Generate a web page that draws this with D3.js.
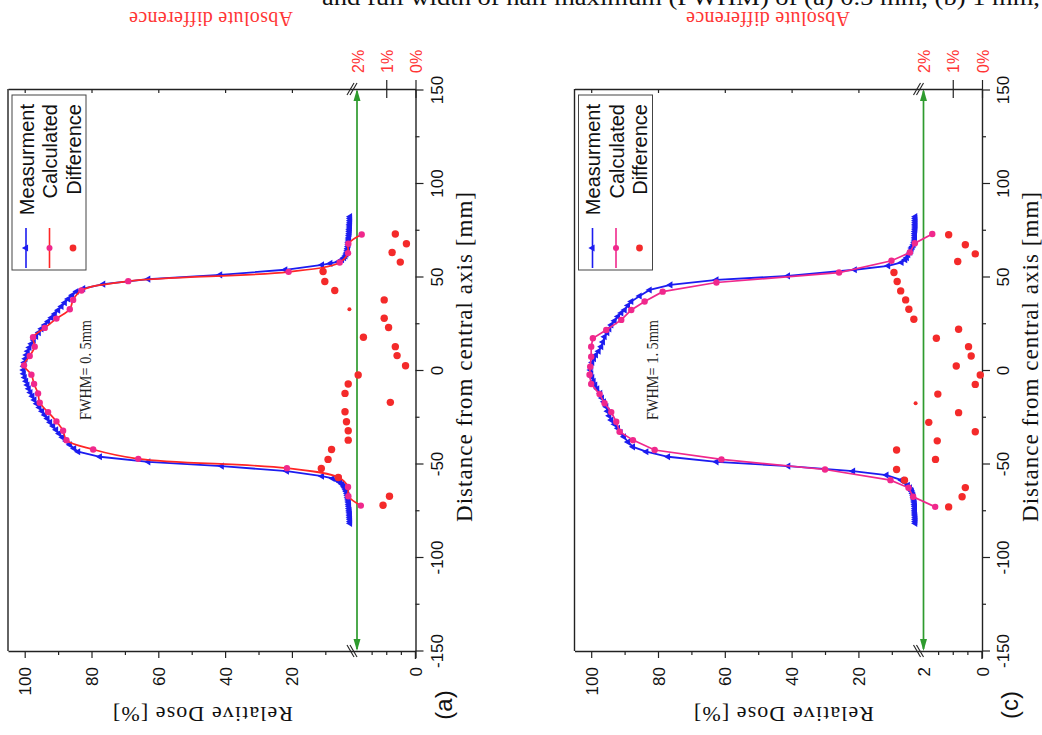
<!DOCTYPE html>
<html><head><meta charset="utf-8">
<script src="https://cdn.jsdelivr.net/npm/d3@7"></script>
<style>body{margin:0;background:#fff}svg{display:block}
.sans{font-family:"Liberation Sans",Arial,sans-serif}
.serif{font-family:"Liberation Serif","Times New Roman",serif}</style>
</head><body>
<svg id="chart" width="1042" height="735"></svg>
<script>
// ---------------- data ----------------
const doseTickValues = [100, 80, 60, 40, 20];
const doseMinorValues = [90, 70, 50, 30, 10];
const lowMinorValues = [0.5, 1, 1.5];
const distTickValues = [-150, -100, -50, 0, 50, 100, 150];
const distMinorValues = [-125, -75, -25, 25, 75, 125];
const diffTickValues = [0, 1, 2];
const diffTickLabels = ["0%", "1%", "2%"];
const legendLabels = ["Measurment", "Calculated", "Difference"];
const panelLetters = ["(a)", "(c)"];
const fwhmLabels = ["FWHM= 0. 5mm", "FWHM= 1. 5mm"];

// [distance mm, relative dose %]
const measA = [[-82,2.6],[-81,2.6],[-80,2.6],[-79,2.7],[-78,2.7],[-77,2.7],[-76,2.8],[-75,2.8],[-74,2.9],[-73,2.9],[-72,3.0],[-71,3.0],[-70,3.1],[-69,3.2],[-68,3.3],[-67,3.4],[-66,3.5],[-65,3.7],[-64,3.9],[-63,4.2],[-62,4.5],[-61,5.0],[-60,5.6],[-59,6.5],[-58,7.8],[-56.8,11],[-54.1,21.5],[-51.4,41],[-49.1,63],[-46.4,77.5],[-43.7,84],[-42,85.2],[-40,86.5],[-38,87.6],[-36,88.7],[-34,89.7],[-32,90.6],[-30,91.5],[-28,92.4],[-26,93.2],[-24,94],[-22,94.8],[-20,95.6],[-18,96.4],[-16,97.1],[-14,97.7],[-12,98.3],[-10,98.8],[-8,99.2],[-6,99.6],[-4,100],[-2,100.3],[0,100.4],[2,100.3],[4,100.1],[6,99.8],[8,99.5],[10,99.1],[12,98.6],[14,98],[16,97.3],[18,96.6],[20,95.8],[22,95],[24,94],[26,93],[28,92],[30,91],[32,90],[34,89],[36,88],[38,87],[40,85.8],[42,84.5],[43.5,82.5],[45.9,76.5],[48.6,63],[50.9,41.5],[53.6,22],[56.2,11],[57,8.5],[58,6.0],[59,5.0],[60,4.4],[61,4.0],[62,3.7],[63,3.5],[64,3.4],[65,3.3],[66,3.2],[67,3.1],[68,3.1],[69,3.0],[70,3.0],[71,2.9],[72,2.9],[73,2.8],[74,2.8],[75,2.8],[76,2.7],[77,2.7],[78,2.7],[79,2.6],[80,2.6],[81,2.6],[82,2.6]];
const calcA = [[-72.5,1.87],[-67.5,3.1],[-62.5,3.2],[-57.5,6],[-52.5,21.5],[-47.5,66],[-42.5,79.5],[-37.5,87.5],[-32.5,88.5],[-27.5,90.5],[-22.5,93],[-17.5,95.5],[-12.5,96],[-7.5,97.2],[-2.5,98],[2.5,100.2],[7.5,98.5],[12.5,97],[17.5,97.5],[22.5,94],[27.5,90.5],[32.5,86.5],[37.5,85.5],[42.5,83],[47.5,69],[52.5,21],[57.5,5.7],[62.5,3.2],[67.5,3.1],[72.5,1.84]];
const diffA = [[72.7,0.69],[67.5,0.31],[62.8,0.80],[57.7,0.52],[52.7,3.16],[47.3,3.1],[42.5,2.76],[37.5,1.07],[32.5,2.26],[27.7,1.07],[22.7,0.92],[17.5,1.78],[12.5,0.69],[7.7,0.63],[2.3,0.34],[-2.7,1.96],[-7.5,2.3],[-12.5,2.41],[-17.3,0.86],[-22.3,2.41],[-27.7,2.36],[-32.5,2.3],[-37.5,2.3],[-42.5,2.87],[-47.8,2.99],[-52.7,3.22],[-57.5,2.64],[-67.5,0.89],[-72.3,1.11]];
const smallDiffA = [32.5];

const measC = [[-82,3.0],[-81,3.0],[-80,3.0],[-79,3.0],[-78,3.0],[-77,3.1],[-76,3.1],[-75,3.1],[-74,3.1],[-73,3.1],[-72,3.2],[-71,3.2],[-70,3.3],[-69,3.4],[-68,3.5],[-67,3.6],[-66,3.8],[-65,4.0],[-64.3,4.2],[-63,4.6],[-61.6,5.2],[-60,6.2],[-58.9,7.1],[-56.2,11.6],[-54.1,21.6],[-51.4,41],[-49.1,62.5],[-46.4,77],[-43.7,83.5],[-41.1,87.5],[-38.5,89],[-35.7,90.2],[-33.5,91.2],[-31.2,92],[-29,93],[-26.8,94],[-24.5,94.6],[-22,95.1],[-19.6,95.5],[-17,96.2],[-15,96.8],[-12.5,97.3],[-10,98.2],[-8,98.8],[-6,99.3],[-4,99.7],[-2,100],[0,100.2],[2,100],[4,99.7],[6,99.2],[8,98.6],[10,97.8],[12.5,97],[15,96.5],[17.8,96],[20,95.2],[22,94.6],[24.1,94],[26.3,93],[28.6,92],[30.5,91],[32.1,90],[34.5,89],[36.6,88],[39.6,85.5],[42.8,82.5],[45.5,76.3],[48.2,62.5],[50.3,41.1],[53.6,21.1],[55.7,11.1],[57.5,7.1],[59,6.0],[60,5.5],[61.6,5.1],[63,4.5],[64,4.2],[65.2,4.1],[66,3.8],[67,3.5],[68,3.3],[69,3.2],[70,3.1],[71,3.1],[72,3.1],[73,3.1],[74,3.1],[75,3.0],[76,3.0],[77,3.0],[78,3.0],[79,3.0],[80,3.0],[81,3.0],[82,3.0]];
const calcC = [[-73.2,1.6],[-67.8,3.6],[-63,5],[-58.9,10.4],[-53.2,30],[-47.8,61],[-42.8,81],[-37.5,87.5],[-33,91.5],[-27.7,92.5],[-22.5,94],[-17.8,96],[-12.9,97.5],[-7.5,100],[-2.5,100.5],[1.8,100.3],[7.1,100],[12.5,100],[17,99.5],[21.4,95.5],[26.8,91],[32.1,88],[36.6,84],[41.9,78.6],[46.8,62.5],[52.1,25.8],[58.4,10.1],[62.8,4.6],[67.8,3.1],[72.7,1.7]];
const diffC = [[72.3,1.14],[67,0.57],[62.1,0.23],[58,0.83],[52.1,3.01],[47.3,2.9],[42.3,2.78],[37.5,2.61],[32.5,2.5],[27.1,2.33],[21.8,0.8],[17,1.56],[12.5,0.46],[7.5,0.37],[2.1,0.88],[-2.7,0.06],[-7.7,0.23],[-12.9,1.51],[-17.8,2.27],[-22.8,0.8],[-28,1.82],[-33,0.23],[-37.9,1.53],[-42.8,2.92],[-47.8,1.59],[-53.2,2.92],[-58.9,2.65],[-62.9,0.57],[-67.8,0.68],[-73.2,1.14]];
const smallDiffC = [-17.8];

// ---------------- drawing ----------------
const svg = d3.select("#chart");
const BLUE = "#1c1cf0", PINK = "#f0288c", RED = "#ff2626", GREEN = "#2e9b2e", DOT = "#f42a2a", TXTRED = "#ff3535";

// caption remnant at top (cut off, as in the source page)
svg.append("text").attr("class", "serif").attr("x", 322).attr("y", 5).style("font-size", "24px")
  .attr("textLength", 718).attr("lengthAdjust", "spacingAndGlyphs").attr("fill", "#111")
  .text("and full width of half maximum (FWHM) of (a) 0.5 mm, (b) 1 mm,");

const L = 8, R = 415.5, T = 89, B = 651;
const yDist = d3.scaleLinear().domain([-150, 150]).range([650.5, 89.5]);
const xDose = d3.scaleLinear().domain([0, 2, 2.01, 105]).range([415.5, 357, 352, 8]);
const xDiff = d3.scaleLinear().domain([0, 2]).range([415.5, 357]);
const fmt = d => String(d);

function panel(cfg) {
  const g = svg.append("g").attr("transform", `translate(${cfg.ox},0)`);

  // green reference line at 2 with arrowheads
  const gx = xDose(2);
  g.append("line").attr("x1", gx).attr("x2", gx).attr("y1", T + 2).attr("y2", B - 2)
    .attr("stroke", GREEN).attr("stroke-width", 1.7);
  g.append("path").attr("d", `M${gx - 3.5},${T + 12}L${gx + 3.5},${T + 12}L${gx},${T}Z`).attr("fill", GREEN);
  g.append("path").attr("d", `M${gx - 3.5},${B - 12}L${gx + 3.5},${B - 12}L${gx},${B}Z`).attr("fill", GREEN);

  // frame: left line
  g.append("line").attr("x1", L).attr("x2", L).attr("y1", T).attr("y2", B).attr("stroke", "#222").attr("stroke-width", 1.4);

  // top axis (inner ticks)
  const top = g.append("g").attr("transform", `translate(0,${T})`)
    .call(d3.axisBottom(xDose).tickValues(doseTickValues).tickSize(4).tickSizeOuter(0).tickFormat(""));
  // secondary difference axis ticks and labels
  const sec = g.append("g").attr("transform", `translate(0,${T})`)
    .call(d3.axisTop(xDiff).tickValues(diffTickValues).tickSize(9).tickSizeOuter(0)
      .tickFormat((d, i) => diffTickLabels[i]));
  sec.select(".domain").remove();
  sec.selectAll(".tick line").attr("y2", -9).attr("y1", 9).attr("opacity", d => d === 2 ? 0 : 1);
  sec.selectAll(".tick text").attr("y", null).attr("dy", null).attr("class", "sans")
    .attr("transform", "translate(6,-16) rotate(-90)").attr("text-anchor", "start")
    .attr("fill", TXTRED).style("font-size", "16px");

  // bottom dose axis
  const labelVals = cfg.showTwo ? doseTickValues.concat([2, 0]) : doseTickValues.concat([0]);
  const bot = g.append("g").attr("transform", `translate(0,${B})`)
    .call(d3.axisBottom(xDose).tickValues(labelVals).tickSize(7).tickSizeOuter(0).tickFormat(fmt));
  bot.selectAll(".tick line").attr("opacity", d => d === 2 ? 0 : 1);
  bot.selectAll(".tick text").attr("y", null).attr("dy", null).attr("class", "sans")
    .attr("transform", "translate(6,16) rotate(-90)").attr("text-anchor", "end")
    .attr("fill", "#111").style("font-size", "17px");
  const botMinor = g.append("g").attr("transform", `translate(0,${B})`)
    .call(d3.axisBottom(xDose).tickValues(doseMinorValues.concat(lowMinorValues)).tickSize(4).tickSizeOuter(0).tickFormat(""));
  botMinor.select(".domain").remove();

  // right distance axis
  const right = g.append("g").attr("transform", `translate(${R},0)`)
    .call(d3.axisRight(yDist).tickValues(distTickValues).tickSize(8).tickSizeOuter(0).tickFormat(fmt));
  right.selectAll(".tick text").attr("x", null).attr("dy", null).attr("class", "sans")
    .attr("transform", "translate(27,0) rotate(-90)").attr("text-anchor", "middle")
    .attr("fill", "#111").style("font-size", "17px");
  const rightMinor = g.append("g").attr("transform", `translate(${R},0)`)
    .call(d3.axisRight(yDist).tickValues(distMinorValues).tickSize(4).tickSizeOuter(0).tickFormat(""));
  rightMinor.select(".domain").remove();
  g.append("line").attr("x1", R).attr("x2", R).attr("y1", B).attr("y2", B + 8).attr("stroke", "#222").attr("stroke-width", 1.4);

  [top, sec, bot, botMinor, right, rightMinor].forEach(a => {
    a.attr("font-family", null);
    a.selectAll("path.domain").attr("stroke", "#222").attr("stroke-width", 1.4);
    a.selectAll(".tick line").attr("stroke", "#222").attr("stroke-width", 1.2);
  });

  // axis break marks
  const bx = xDose(2) - 6;
  [[T, -1], [B, 1]].forEach(([yy, s]) => {
    [0, 3].forEach(o => {
      g.append("line").attr("x1", bx - 4 + o).attr("x2", bx + 3 + o)
        .attr("y1", yy + 6 * (s < 0 ? 1 : -1)).attr("y2", yy - 6 * (s < 0 ? 1 : -1))
        .attr("stroke", "#222").attr("stroke-width", 1.1);
    });
  });

  // curves
  const line = d3.line().x(d => xDose(d[1])).y(d => yDist(d[0]));
  g.append("path").datum(cfg.meas).attr("d", line).attr("fill", "none").attr("stroke", BLUE).attr("stroke-width", 1.8);
  const tri = d3.symbol(d3.symbolTriangle, 22);
  g.append("g").selectAll("path").data(cfg.meas).join("path").attr("d", tri)
    .attr("transform", d => `translate(${xDose(d[1])},${yDist(d[0])}) rotate(-90)`).attr("fill", BLUE);

  const cline = d3.line().x(d => xDose(d[1])).y(d => yDist(d[0])).curve(cfg.smooth ? d3.curveCatmullRom.alpha(0.5) : d3.curveLinear);
  g.append("path").datum(cfg.calc).attr("d", cline).attr("fill", "none").attr("stroke", cfg.calcLine).attr("stroke-width", 1.7);
  g.append("g").selectAll("circle").data(cfg.calc).join("circle")
    .attr("cx", d => xDose(d[1])).attr("cy", d => yDist(d[0])).attr("r", 3.2).attr("fill", PINK);

  g.append("g").selectAll("circle").data(cfg.diff).join("circle")
    .attr("cx", d => xDiff(d[1])).attr("cy", d => yDist(d[0]))
    .attr("r", d => cfg.small.includes(d[0]) ? 2 : 3.7).attr("fill", DOT);

  // legend
  const lg = g.append("g");
  lg.append("rect").attr("x", 12).attr("y", 95).attr("width", 74).attr("height", 175)
    .attr("fill", "#fff").attr("stroke", "#444").attr("stroke-width", 1);
  const symX = [26, 49.5, 73];
  legendLabels.forEach((lab, i) => {
    lg.append("text").attr("class", "sans").attr("transform", `translate(${symX[i] + 7.5},104) rotate(-90)`)
      .attr("text-anchor", "end").style("font-size", "20px").attr("fill", "#111").text(lab);
  });
  lg.append("line").attr("x1", symX[0]).attr("x2", symX[0]).attr("y1", 228).attr("y2", 268).attr("stroke", BLUE).attr("stroke-width", 1.6);
  lg.append("path").attr("d", tri).attr("transform", `translate(${symX[0]},248) rotate(-90)`).attr("fill", BLUE);
  lg.append("line").attr("x1", symX[1]).attr("x2", symX[1]).attr("y1", 228).attr("y2", 268).attr("stroke", cfg.calcLine).attr("stroke-width", 1.6);
  lg.append("circle").attr("cx", symX[1]).attr("cy", 248).attr("r", 3).attr("fill", PINK);
  lg.append("circle").attr("cx", symX[2]).attr("cy", 248).attr("r", 3.4).attr("fill", DOT);

  // FWHM annotation
  g.append("text").attr("class", "serif").attr("transform", `translate(91,420) rotate(-90)`)
    .style("font-size", "17px").attr("fill", "#222")
    .attr("textLength", 100).attr("lengthAdjust", "spacingAndGlyphs").text(cfg.fwhm);

  // titles
  svg.append("text").attr("class", "serif").attr("transform", `translate(${cfg.diffTitleX},12) rotate(180)`)
    .attr("text-anchor", "middle").style("font-size", "20px").attr("fill", TXTRED)
    .attr("textLength", 164).attr("lengthAdjust", "spacing")
    .text("Absolute difference");
  svg.append("text").attr("class", "serif").attr("transform", `translate(${cfg.doseTitleX},707) rotate(180)`)
    .attr("text-anchor", "middle").style("font-size", "22px").attr("fill", "#111")
    .attr("textLength", 180).attr("lengthAdjust", "spacing")
    .text("Relative Dose [%]");
  svg.append("text").attr("class", "serif").attr("transform", `translate(${cfg.distTitleX},357) rotate(-90)`)
    .attr("text-anchor", "middle").style("font-size", "23px").attr("fill", "#111")
    .attr("textLength", 330).attr("lengthAdjust", "spacing")
    .text("Distance from central axis [mm]");
  svg.append("text").attr("class", "sans").attr("transform", `translate(${cfg.letterX},705) rotate(-90)`)
    .attr("text-anchor", "middle").style("font-size", "24px").attr("fill", "#111")
    .text(cfg.letter);
}

panel({ox: 0, meas: measA, calc: calcA, diff: diffA, small: smallDiffA, calcLine: RED, smooth: true,
  showTwo: false, fwhm: fwhmLabels[0], letter: panelLetters[0],
  diffTitleX: 211, doseTitleX: 203, distTitleX: 472, letterX: 452});
panel({ox: 566.5, meas: measC, calc: calcC, diff: diffC, small: smallDiffC, calcLine: PINK, smooth: false,
  showTwo: true, fwhm: fwhmLabels[1], letter: panelLetters[1],
  diffTitleX: 768, doseTitleX: 784, distTitleX: 1038, letterX: 1018});
</script>
</body></html>
